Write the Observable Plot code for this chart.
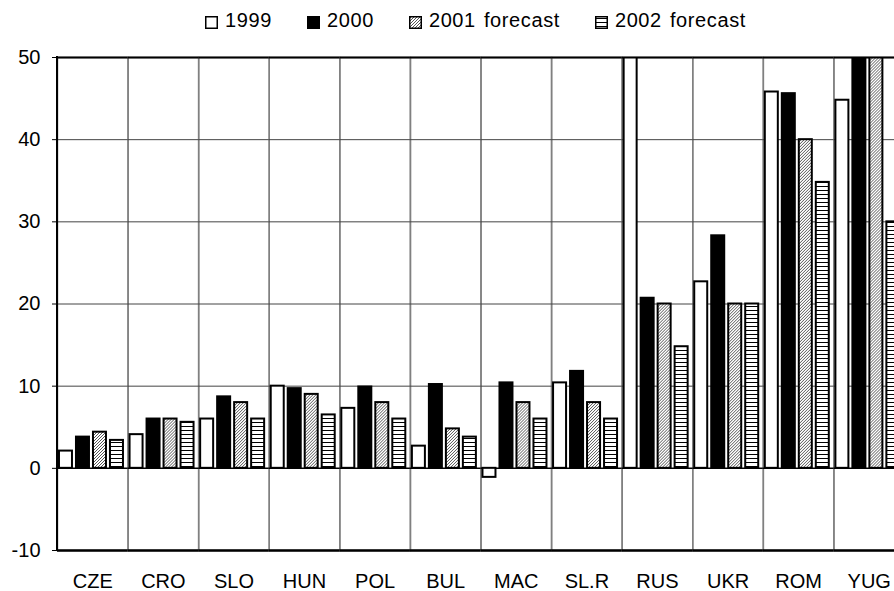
<!DOCTYPE html>
<html>
<head>
<meta charset="utf-8">
<script src="https://cdn.jsdelivr.net/npm/d3@7"></script>
<script src="https://cdn.jsdelivr.net/npm/@observablehq/plot@0.6"></script>
<style>
  html, body { margin: 0; padding: 0; overflow: hidden; background: #fff; width: 894px; height: 591px; }
  #legend { height: 40px; box-sizing: border-box; padding-left: 57px; display: flex; justify-content: center; align-items: center;
            font-family: "Liberation Sans", Arial, sans-serif; font-size: 20px; color: #000; letter-spacing: 0.6px; word-spacing: 2px; }
  .item { display: flex; align-items: center; margin: 0 17.5px; }
  .item svg { margin-right: 7px; margin-top: 4px; }
</style>
</head>
<body>
<svg width="0" height="0" style="position:absolute">
  <defs>
    <pattern id="p2001" width="3" height="3" patternUnits="userSpaceOnUse">
      <rect width="3" height="3" fill="#fff"/>
      <path d="M0,3 L3,0 M-1,1 L1,-1 M2,4 L4,2" stroke="#555" stroke-width="1"/>
    </pattern>
    <pattern id="p2002" width="6" height="4" patternUnits="userSpaceOnUse">
      <rect width="6" height="4" fill="#fff"/>
      <rect y="2" width="6" height="1" fill="#000"/>
    </pattern>
  </defs>
</svg>
<div id="legend"></div>
<div id="chart"></div>
<script>
const countries = ["CZE", "CRO", "SLO", "HUN", "POL", "BUL", "MAC", "SL.R", "RUS", "UKR", "ROM", "YUG"];
const series = ["1999", "2000", "2001 forecast", "2002 forecast"];
const v1999 = [2.1, 4.1, 6.0, 10.0, 7.3, 2.7, -1.1, 10.4, 85.7, 22.7, 45.8, 44.8];
const v2000 = [3.8, 6.0, 8.7, 9.7, 9.9, 10.2, 10.4, 11.8, 20.7, 28.3, 45.6, 70.0];
const v2001 = [4.4, 6.0, 8.0, 9.0, 8.0, 4.8, 8.0, 8.0, 20.0, 20.0, 40.0, 80.0];
const v2002 = [3.4, 5.6, 6.0, 6.5, 6.0, 3.8, 6.0, 6.0, 14.8, 20.0, 34.8, 30.0];
const fills = ["#ffffff", "#000000", "url(#p2001)", "url(#p2002)"];

const values = [v1999, v2000, v2001, v2002];
const rows = countries.flatMap((c, i) => series.map((s, j) => ({country: c, series: s, value: values[j][i]})));

// legend
const legend = d3.select("#legend");
series.forEach((s, j) => {
  const it = legend.append("div").attr("class", "item");
  const sw = it.append("svg").attr("width", 13).attr("height", 13);
  sw.append("rect").attr("x", 0.75).attr("y", 0.75).attr("width", 11.5).attr("height", 11.5)
    .attr("fill", fills[j]).attr("stroke", "#000").attr("stroke-width", 1.5);
  it.append("span").text(s);
});

const plot = Plot.plot({
  width: 904,
  height: 551,
  marginLeft: 57,
  marginRight: 0,
  marginTop: 17,
  marginBottom: 41,
  style: {fontFamily: "'Liberation Sans', Arial, sans-serif", fontSize: "20px", color: "#000", background: "#fff", maxWidth: "none"},
  facet: {data: rows, x: "country", label: null},
  fx: {domain: countries, padding: 0, round: false, axis: "bottom", tickSize: 0, tickPadding: 23, label: null},
  x: {domain: series, axis: null, round: false, paddingInner: 0.235, paddingOuter: 0.194, align: 0.3},
  y: {domain: [-10, 50], ticks: 6, tickSize: 5, tickPadding: 12, label: null, tickFormat: d => String(d)},
  color: {domain: series, range: fills},
  marks: [
    Plot.frame({stroke: "#808080", strokeWidth: 1.5}),
    Plot.ruleY([10, 20, 30, 40], {stroke: "#444", strokeWidth: 1}),
    Plot.ruleY([0], {stroke: "#000", strokeWidth: 1.5}),
    Plot.barY(rows, {x: "series", y: "value", fill: "series", stroke: "#000", strokeWidth: 2, clip: true}),
    Plot.ruleY([50], {stroke: "#000", strokeWidth: 2}),
    Plot.ruleY([-10], {stroke: "#000", strokeWidth: 2.5})
  ]
});
document.getElementById("chart").appendChild(plot);

// left edge of the frame, from the library's scales
const fxS = plot.scale("fx"), yS = plot.scale("y");
const x0 = fxS.apply(countries[0]);
d3.select(plot).append("line")
  .attr("x1", x0).attr("x2", x0)
  .attr("y1", yS.apply(50) - 1).attr("y2", yS.apply(-10) + 1)
  .attr("stroke", "#000").attr("stroke-width", 2);
</script>
</body>
</html>
